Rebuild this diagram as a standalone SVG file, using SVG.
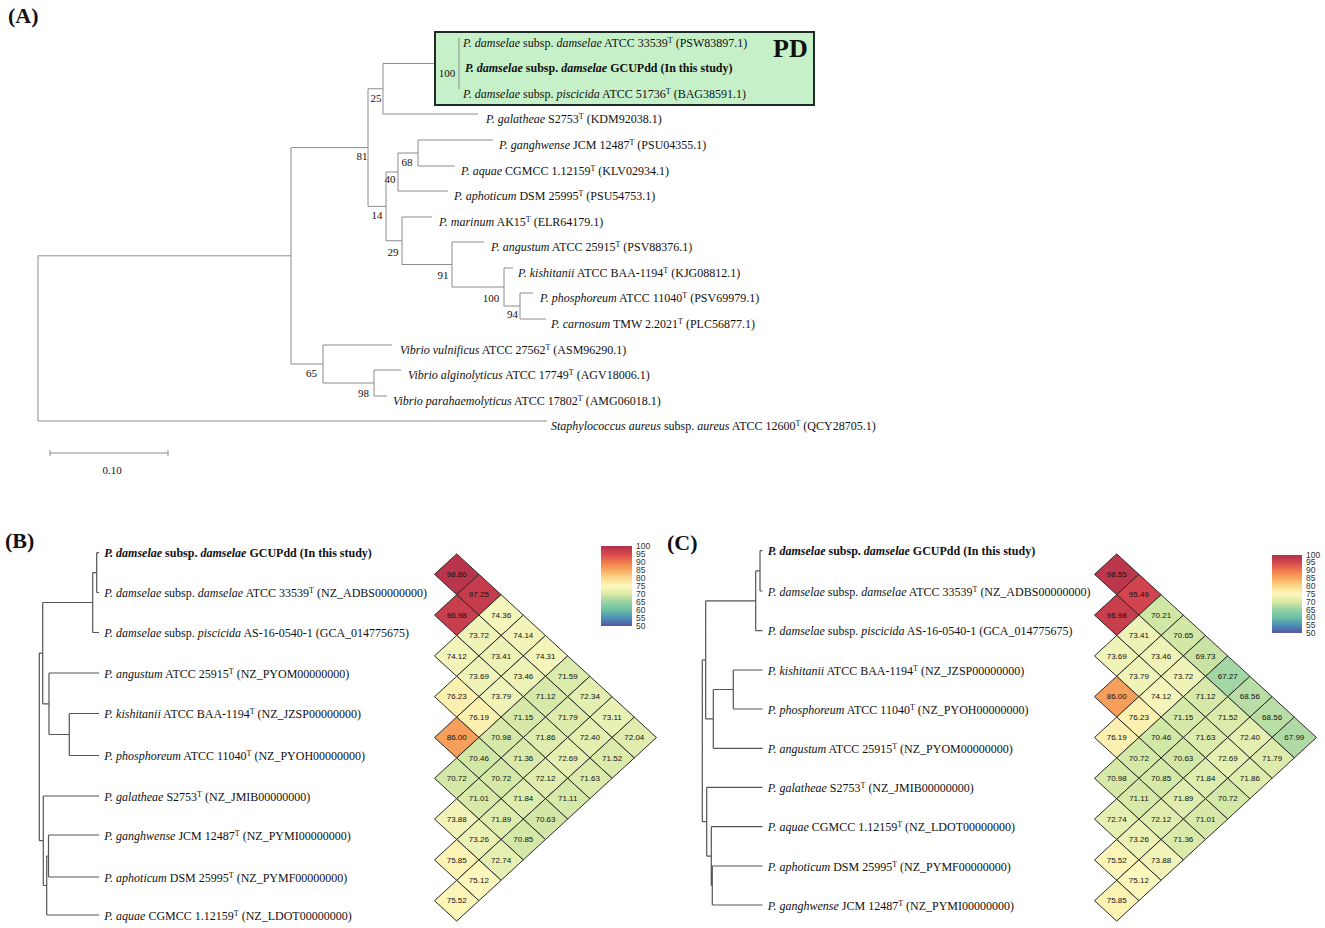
<svg xmlns="http://www.w3.org/2000/svg" width="1325" height="928" viewBox="0 0 1325 928">
<style>
.t{font-family:"Liberation Serif","Times New Roman",serif;font-size:12px;fill:#111}
.i{font-style:italic}
.b{font-weight:bold}
.s{font-size:8px}
.bs{font-family:"Liberation Serif","Times New Roman",serif;font-size:11px;fill:#111;text-anchor:middle}
.ta{fill:none;stroke:#8c8c8c;stroke-width:1}
.tb{fill:none;stroke:#555;stroke-width:1.2}
.cell{stroke:#2a2a2a;stroke-width:1}
.v{font-family:"Liberation Sans",Arial,sans-serif;font-size:8px;fill:#111;text-anchor:middle}
.cb{font-family:"Liberation Sans",Arial,sans-serif;font-size:8.5px;fill:#333}
.pl{font-family:"Liberation Serif","Times New Roman",serif;font-size:22px;font-weight:bold;fill:#111}
</style>
<defs>
<path id="dm" class="cell" d="M-22.2 0L0 -20.4L22.2 0L0 20.4Z"/>
<linearGradient id="spec" x1="0" y1="0" x2="0" y2="1">
<stop offset="0" stop-color="#b2304a"/><stop offset="0.1" stop-color="#d5474f"/><stop offset="0.2" stop-color="#f07a4a"/><stop offset="0.3" stop-color="#f8a860"/><stop offset="0.4" stop-color="#fbd98a"/><stop offset="0.5" stop-color="#fbf8bd"/><stop offset="0.6" stop-color="#dbeaa3"/><stop offset="0.7" stop-color="#96d2a5"/><stop offset="0.8" stop-color="#6cc0a4"/><stop offset="0.9" stop-color="#4a8fb5"/><stop offset="1" stop-color="#5b53a2"/>
</linearGradient>
</defs>
<rect width="1325" height="928" fill="#fff"/>

<text class="pl" x="8" y="23">(A)</text>
<text class="pl" x="5" y="548">(B)</text>
<text class="pl" x="667" y="550">(C)</text>

<!-- Panel A connectors -->
<g id="connectors-A" class="ta">
<path d="M38 255.8V421H547M38 255.8H291M291 147.6V364M291 147.6H368M368 88.75V206.4M368 88.75H383M383 63.5V114M383 63.5H459M383 114H478M368 206.4H386M386 172V240.75M386 172H398M398 153V191M398 153H418M418 140V166M418 140H493M418 166H455M398 191H448M386 240.75H402M402 217V264.5M402 217H432M402 264.5H452M452 242V287M452 242H484M452 287H504M504 268V306M504 268H513M504 306H520M520 293V319M520 293H533M520 319H546M291 364H323M323 345V383M323 345H392M323 383H374M374 370V396M374 370H401M374 396H387"/>
</g>

<g id="pd-box">
<rect x="435" y="32" width="379" height="73" fill="#c6f0c8" stroke="#1e2a28" stroke-width="2"/>
<path class="ta" d="M459 38V89"/>
<text class="t b" x="773" y="57" style="font-size:26px">PD</text>
<text class="bs" x="447" y="76.5">100</text>
</g>

<g id="a-labels">
<g id="a-dd33539"><text class="t" x="463" y="47"><tspan class="i">P. damselae</tspan> subsp. <tspan class="i">damselae</tspan> ATCC 33539<tspan class="s" dy="-4">T</tspan><tspan dy="4"> (PSW83897.1)</tspan></text></g>
<g id="a-gcupdd"><text class="t b" x="465" y="72"><tspan class="i">P. damselae</tspan> subsp. <tspan class="i">damselae</tspan> GCUPdd (In this study)</text></g>
<g id="a-piscicida"><text class="t" x="463" y="98"><tspan class="i">P. damselae</tspan> subsp. <tspan class="i">piscicida</tspan> ATCC 51736<tspan class="s" dy="-4">T</tspan><tspan dy="4"> (BAG38591.1)</tspan></text></g>
<g id="a-galatheae"><text class="t" x="486" y="123"><tspan class="i">P. galatheae</tspan> S2753<tspan class="s" dy="-4">T</tspan><tspan dy="4"> (KDM92038.1)</tspan></text></g>
<g id="a-ganghwense"><text class="t" x="499" y="149"><tspan class="i">P. ganghwense</tspan> JCM 12487<tspan class="s" dy="-4">T</tspan><tspan dy="4"> (PSU04355.1)</tspan></text></g>
<g id="a-aquae"><text class="t" x="461" y="175"><tspan class="i">P. aquae</tspan> CGMCC 1.12159<tspan class="s" dy="-4">T</tspan><tspan dy="4"> (KLV02934.1)</tspan></text></g>
<g id="a-aphoticum"><text class="t" x="454" y="200"><tspan class="i">P. aphoticum</tspan> DSM 25995<tspan class="s" dy="-4">T</tspan><tspan dy="4"> (PSU54753.1)</tspan></text></g>
<g id="a-marinum"><text class="t" x="439" y="226"><tspan class="i">P. marinum</tspan> AK15<tspan class="s" dy="-4">T</tspan><tspan dy="4"> (ELR64179.1)</tspan></text></g>
<g id="a-angustum"><text class="t" x="491" y="251"><tspan class="i">P. angustum</tspan> ATCC 25915<tspan class="s" dy="-4">T</tspan><tspan dy="4"> (PSV88376.1)</tspan></text></g>
<g id="a-kishitanii"><text class="t" x="518" y="277"><tspan class="i">P. kishitanii</tspan> ATCC BAA-1194<tspan class="s" dy="-4">T</tspan><tspan dy="4"> (KJG08812.1)</tspan></text></g>
<g id="a-phosphoreum"><text class="t" x="540" y="302"><tspan class="i">P. phosphoreum</tspan> ATCC 11040<tspan class="s" dy="-4">T</tspan><tspan dy="4"> (PSV69979.1)</tspan></text></g>
<g id="a-carnosum"><text class="t" x="551" y="328"><tspan class="i">P. carnosum</tspan> TMW 2.2021<tspan class="s" dy="-4">T</tspan><tspan dy="4"> (PLC56877.1)</tspan></text></g>
<g id="a-vulnificus"><text class="t" x="400" y="354"><tspan class="i">Vibrio vulnificus</tspan> ATCC 27562<tspan class="s" dy="-4">T</tspan><tspan dy="4"> (ASM96290.1)</tspan></text></g>
<g id="a-alginolyticus"><text class="t" x="408" y="379"><tspan class="i">Vibrio alginolyticus</tspan> ATCC 17749<tspan class="s" dy="-4">T</tspan><tspan dy="4"> (AGV18006.1)</tspan></text></g>
<g id="a-parahaemolyticus"><text class="t" x="393" y="405"><tspan class="i">Vibrio parahaemolyticus</tspan> ATCC 17802<tspan class="s" dy="-4">T</tspan><tspan dy="4"> (AMG06018.1)</tspan></text></g>
<g id="a-staph"><text class="t" x="551" y="430"><tspan class="i">Staphylococcus aureus</tspan> subsp. <tspan class="i">aureus</tspan> ATCC 12600<tspan class="s" dy="-4">T</tspan><tspan dy="4"> (QCY28705.1)</tspan></text></g>
</g>

<g id="a-bootstrap">
<text class="bs" x="376" y="101.5">25</text>
<text class="bs" x="362" y="160">81</text>
<text class="bs" x="407" y="165.5">68</text>
<text class="bs" x="390" y="183">40</text>
<text class="bs" x="377" y="219">14</text>
<text class="bs" x="393" y="255.5">29</text>
<text class="bs" x="443" y="279">91</text>
<text class="bs" x="491" y="301.5">100</text>
<text class="bs" x="512.5" y="318">94</text>
<text class="bs" x="311.5" y="377">65</text>
<text class="bs" x="363.5" y="397">98</text>
</g>

<g id="scale-bar">
<path class="ta" d="M50 453H168M50 450V456M168 450V456"/>
<text class="bs" x="112" y="474">0.10</text>
</g>

<!-- Panel B tree -->
<g id="connectors-B" class="tb">
<path d="M96.7 552.7V592.5M96.7 552.7H99M96.7 592.5H99M92.7 572.6H96.7M92.7 572.6V632.5M92.7 632.5H99M42.7 602.5H92.7M42.7 602.5V703.8M42.7 703.8H49M49 673V734.5M49 673H99M49 734.5H69.3M69.3 713.5V755.5M69.3 713.5H99M69.3 755.5H99M39.3 653.1H42.7M39.3 653.1V840.7M39.3 840.7H43.3M43.3 796V885.5M43.3 796H99M43.3 885.5H46.7M46.7 856V915M46.7 915H99M46.7 856H48.5M48.5 835V877M48.5 835H99M48.5 877H99"/>
</g>
<g id="b-labels">
<g id="b-gcupdd"><text class="t b" x="104.3" y="557.2"><tspan class="i">P. damselae</tspan> subsp. <tspan class="i">damselae</tspan> GCUPdd (In this study)</text></g>
<g id="b-dd33539"><text class="t" x="104.3" y="597"><tspan class="i">P. damselae</tspan> subsp. <tspan class="i">damselae</tspan> ATCC 33539<tspan class="s" dy="-4">T</tspan><tspan dy="4"> (NZ_ADBS00000000)</tspan></text></g>
<g id="b-piscicida"><text class="t" x="104.3" y="637"><tspan class="i">P. damselae</tspan> subsp. <tspan class="i">piscicida</tspan> AS-16-0540-1 (GCA_014775675)</text></g>
<g id="b-angustum"><text class="t" x="104.3" y="677.5"><tspan class="i">P. angustum</tspan> ATCC 25915<tspan class="s" dy="-4">T</tspan><tspan dy="4"> (NZ_PYOM00000000)</tspan></text></g>
<g id="b-kishitanii"><text class="t" x="104.3" y="718"><tspan class="i">P. kishitanii</tspan> ATCC BAA-1194<tspan class="s" dy="-4">T</tspan><tspan dy="4"> (NZ_JZSP00000000)</tspan></text></g>
<g id="b-phosphoreum"><text class="t" x="104.3" y="760"><tspan class="i">P. phosphoreum</tspan> ATCC 11040<tspan class="s" dy="-4">T</tspan><tspan dy="4"> (NZ_PYOH00000000)</tspan></text></g>
<g id="b-galatheae"><text class="t" x="104.3" y="800.5"><tspan class="i">P. galatheae</tspan> S2753<tspan class="s" dy="-4">T</tspan><tspan dy="4"> (NZ_JMIB00000000)</tspan></text></g>
<g id="b-ganghwense"><text class="t" x="104.3" y="839.5"><tspan class="i">P. ganghwense</tspan> JCM 12487<tspan class="s" dy="-4">T</tspan><tspan dy="4"> (NZ_PYMI00000000)</tspan></text></g>
<g id="b-aphoticum"><text class="t" x="104.3" y="881.5"><tspan class="i">P. aphoticum</tspan> DSM 25995<tspan class="s" dy="-4">T</tspan><tspan dy="4"> (NZ_PYMF00000000)</tspan></text></g>
<g id="b-aquae"><text class="t" x="104.3" y="919.5"><tspan class="i">P. aquae</tspan> CGMCC 1.12159<tspan class="s" dy="-4">T</tspan><tspan dy="4"> (NZ_LDOT00000000)</tspan></text></g>
</g>

<g id="heatmap-B" transform="translate(456.7,574.3)">
<use href="#dm" x="0" y="0" fill="#b9354b"/><text class="v" x="0" y="2.8">98.86</text>
<use href="#dm" x="22.2" y="20.4" fill="#c53d4d"/><text class="v" x="22.2" y="23.2">97.25</text>
<use href="#dm" x="0" y="40.8" fill="#c73e4d"/><text class="v" x="0" y="43.6">96.98</text>
<use href="#dm" x="44.4" y="40.8" fill="#f4f5bb"/><text class="v" x="44.4" y="43.6">74.36</text>
<use href="#dm" x="22.2" y="61.2" fill="#eff3b8"/><text class="v" x="22.2" y="64">73.72</text>
<use href="#dm" x="66.6" y="61.2" fill="#f3f4ba"/><text class="v" x="66.6" y="64">74.14</text>
<use href="#dm" x="0" y="81.6" fill="#f3f4ba"/><text class="v" x="0" y="84.4">74.12</text>
<use href="#dm" x="44.4" y="81.6" fill="#ecf1b5"/><text class="v" x="44.4" y="84.4">73.41</text>
<use href="#dm" x="88.8" y="81.6" fill="#f4f5ba"/><text class="v" x="88.8" y="84.4">74.31</text>
<use href="#dm" x="22.2" y="102" fill="#eff3b8"/><text class="v" x="22.2" y="104.8">73.69</text>
<use href="#dm" x="66.6" y="102" fill="#edf2b6"/><text class="v" x="66.6" y="104.8">73.46</text>
<use href="#dm" x="111" y="102" fill="#dbebac"/><text class="v" x="111" y="104.8">71.59</text>
<use href="#dm" x="0" y="122.4" fill="#fbf0b0"/><text class="v" x="0" y="125.2">76.23</text>
<use href="#dm" x="44.4" y="122.4" fill="#f0f3b8"/><text class="v" x="44.4" y="125.2">73.79</text>
<use href="#dm" x="88.8" y="122.4" fill="#d7e9a9"/><text class="v" x="88.8" y="125.2">71.12</text>
<use href="#dm" x="133.2" y="122.4" fill="#e3eeb0"/><text class="v" x="133.2" y="125.2">72.34</text>
<use href="#dm" x="22.2" y="142.8" fill="#fbf0b0"/><text class="v" x="22.2" y="145.6">76.19</text>
<use href="#dm" x="66.6" y="142.8" fill="#d7e9a9"/><text class="v" x="66.6" y="145.6">71.15</text>
<use href="#dm" x="111" y="142.8" fill="#ddecad"/><text class="v" x="111" y="145.6">71.79</text>
<use href="#dm" x="155.4" y="142.8" fill="#e9f0b4"/><text class="v" x="155.4" y="145.6">73.11</text>
<use href="#dm" x="0" y="163.2" fill="#f69f5c"/><text class="v" x="0" y="166">86.00</text>
<use href="#dm" x="44.4" y="163.2" fill="#d6e9a8"/><text class="v" x="44.4" y="166">70.98</text>
<use href="#dm" x="88.8" y="163.2" fill="#deecad"/><text class="v" x="88.8" y="166">71.86</text>
<use href="#dm" x="133.2" y="163.2" fill="#e3eeb0"/><text class="v" x="133.2" y="166">72.40</text>
<use href="#dm" x="177.6" y="163.2" fill="#e0edae"/><text class="v" x="177.6" y="166">72.04</text>
<use href="#dm" x="22.2" y="183.6" fill="#d1e7a5"/><text class="v" x="22.2" y="186.4">70.46</text>
<use href="#dm" x="66.6" y="183.6" fill="#d9eaaa"/><text class="v" x="66.6" y="186.4">71.36</text>
<use href="#dm" x="111" y="183.6" fill="#e6efb2"/><text class="v" x="111" y="186.4">72.69</text>
<use href="#dm" x="155.4" y="183.6" fill="#dbebab"/><text class="v" x="155.4" y="186.4">71.52</text>
<use href="#dm" x="0" y="204" fill="#d4e8a7"/><text class="v" x="0" y="206.8">70.72</text>
<use href="#dm" x="44.4" y="204" fill="#d4e8a7"/><text class="v" x="44.4" y="206.8">70.72</text>
<use href="#dm" x="88.8" y="204" fill="#e0edae"/><text class="v" x="88.8" y="206.8">72.12</text>
<use href="#dm" x="133.2" y="204" fill="#dbebac"/><text class="v" x="133.2" y="206.8">71.63</text>
<use href="#dm" x="22.2" y="224.4" fill="#d6e9a8"/><text class="v" x="22.2" y="227.2">71.01</text>
<use href="#dm" x="66.6" y="224.4" fill="#deecad"/><text class="v" x="66.6" y="227.2">71.84</text>
<use href="#dm" x="111" y="224.4" fill="#d7e9a9"/><text class="v" x="111" y="227.2">71.11</text>
<use href="#dm" x="0" y="244.8" fill="#f1f3b9"/><text class="v" x="0" y="247.6">73.88</text>
<use href="#dm" x="44.4" y="244.8" fill="#deecad"/><text class="v" x="44.4" y="247.6">71.89</text>
<use href="#dm" x="88.8" y="244.8" fill="#d3e7a6"/><text class="v" x="88.8" y="247.6">70.63</text>
<use href="#dm" x="22.2" y="265.2" fill="#ebf1b5"/><text class="v" x="22.2" y="268">73.26</text>
<use href="#dm" x="66.6" y="265.2" fill="#d4e8a7"/><text class="v" x="66.6" y="268">70.85</text>
<use href="#dm" x="0" y="285.6" fill="#fbf3b4"/><text class="v" x="0" y="288.4">75.85</text>
<use href="#dm" x="44.4" y="285.6" fill="#e6efb2"/><text class="v" x="44.4" y="288.4">72.74</text>
<use href="#dm" x="22.2" y="306" fill="#fbf7bc"/><text class="v" x="22.2" y="308.8">75.12</text>
<use href="#dm" x="0" y="326.4" fill="#fbf5b8"/><text class="v" x="0" y="329.2">75.52</text>
</g>

<g id="colorbar-B">
<rect x="601" y="546" width="31" height="80" fill="url(#spec)"/>
<text class="cb" x="636" y="549">100</text><text class="cb" x="636" y="557">95</text><text class="cb" x="636" y="565">90</text><text class="cb" x="636" y="573">85</text><text class="cb" x="636" y="581">80</text><text class="cb" x="636" y="589">75</text><text class="cb" x="636" y="597">70</text><text class="cb" x="636" y="605">65</text><text class="cb" x="636" y="613">60</text><text class="cb" x="636" y="621">55</text><text class="cb" x="636" y="629">50</text>
</g>

<!-- Panel C tree -->
<g id="connectors-C" class="tb">
<path d="M760 550.7V591M760 550.7H762.5M760 591H762.5M755.7 570.9H760M755.7 570.9V630.7M755.7 630.7H762.5M705.7 600.8H755.7M705.7 600.8V718.9M705.7 718.9H713.3M713.3 689.5V748.3M713.3 748.3H762.5M713.3 689.5H733.3M733.3 670V709M733.3 670H762.5M733.3 709H762.5M702.3 659.9H705.7M702.3 659.9V821.7M702.3 821.7H706.7M706.7 787.3V856.1M706.7 787.3H762.5M706.7 856.1H711.3M711.3 826.7V885.5M711.3 826.7H762.5M711.3 885.5H712.3M712.3 866V905M712.3 866H762.5M712.3 905H762.5"/>
</g>
<g id="c-labels">
<g id="c-gcupdd"><text class="t b" x="767.7" y="555.2"><tspan class="i">P. damselae</tspan> subsp. <tspan class="i">damselae</tspan> GCUPdd (In this study)</text></g>
<g id="c-dd33539"><text class="t" x="767.7" y="595.5"><tspan class="i">P. damselae</tspan> subsp. <tspan class="i">damselae</tspan> ATCC 33539<tspan class="s" dy="-4">T</tspan><tspan dy="4"> (NZ_ADBS00000000)</tspan></text></g>
<g id="c-piscicida"><text class="t" x="767.7" y="635.2"><tspan class="i">P. damselae</tspan> subsp. <tspan class="i">piscicida</tspan> AS-16-0540-1 (GCA_014775675)</text></g>
<g id="c-kishitanii"><text class="t" x="767.7" y="674.5"><tspan class="i">P. kishitanii</tspan> ATCC BAA-1194<tspan class="s" dy="-4">T</tspan><tspan dy="4"> (NZ_JZSP00000000)</tspan></text></g>
<g id="c-phosphoreum"><text class="t" x="767.7" y="713.5"><tspan class="i">P. phosphoreum</tspan> ATCC 11040<tspan class="s" dy="-4">T</tspan><tspan dy="4"> (NZ_PYOH00000000)</tspan></text></g>
<g id="c-angustum"><text class="t" x="767.7" y="752.8"><tspan class="i">P. angustum</tspan> ATCC 25915<tspan class="s" dy="-4">T</tspan><tspan dy="4"> (NZ_PYOM00000000)</tspan></text></g>
<g id="c-galatheae"><text class="t" x="767.7" y="791.8"><tspan class="i">P. galatheae</tspan> S2753<tspan class="s" dy="-4">T</tspan><tspan dy="4"> (NZ_JMIB00000000)</tspan></text></g>
<g id="c-aquae"><text class="t" x="767.7" y="831.2"><tspan class="i">P. aquae</tspan> CGMCC 1.12159<tspan class="s" dy="-4">T</tspan><tspan dy="4"> (NZ_LDOT00000000)</tspan></text></g>
<g id="c-aphoticum"><text class="t" x="767.7" y="870.5"><tspan class="i">P. aphoticum</tspan> DSM 25995<tspan class="s" dy="-4">T</tspan><tspan dy="4"> (NZ_PYMF00000000)</tspan></text></g>
<g id="c-ganghwense"><text class="t" x="767.7" y="909.5"><tspan class="i">P. ganghwense</tspan> JCM 12487<tspan class="s" dy="-4">T</tspan><tspan dy="4"> (NZ_PYMI00000000)</tspan></text></g>
</g>

<g id="heatmap-C" transform="translate(1116.7,574.3)">
<use href="#dm" x="0" y="0" fill="#bc374b"/><text class="v" x="0" y="2.8">98.55</text>
<use href="#dm" x="22.2" y="20.4" fill="#d2454f"/><text class="v" x="22.2" y="23.2">95.49</text>
<use href="#dm" x="0" y="40.8" fill="#c73e4d"/><text class="v" x="0" y="43.6">96.98</text>
<use href="#dm" x="44.4" y="40.8" fill="#cfe6a4"/><text class="v" x="44.4" y="43.6">70.21</text>
<use href="#dm" x="22.2" y="61.2" fill="#ecf1b5"/><text class="v" x="22.2" y="64">73.41</text>
<use href="#dm" x="66.6" y="61.2" fill="#d3e7a6"/><text class="v" x="66.6" y="64">70.65</text>
<use href="#dm" x="0" y="81.6" fill="#eff3b8"/><text class="v" x="0" y="84.4">73.69</text>
<use href="#dm" x="44.4" y="81.6" fill="#edf2b6"/><text class="v" x="44.4" y="84.4">73.46</text>
<use href="#dm" x="88.8" y="81.6" fill="#c8e3a3"/><text class="v" x="88.8" y="84.4">69.73</text>
<use href="#dm" x="22.2" y="102" fill="#f0f3b8"/><text class="v" x="22.2" y="104.8">73.79</text>
<use href="#dm" x="66.6" y="102" fill="#eff3b8"/><text class="v" x="66.6" y="104.8">73.72</text>
<use href="#dm" x="111" y="102" fill="#a3d6a5"/><text class="v" x="111" y="104.8">67.27</text>
<use href="#dm" x="0" y="122.4" fill="#f69f5c"/><text class="v" x="0" y="125.2">86.00</text>
<use href="#dm" x="44.4" y="122.4" fill="#f3f4ba"/><text class="v" x="44.4" y="125.2">74.12</text>
<use href="#dm" x="88.8" y="122.4" fill="#d7e9a9"/><text class="v" x="88.8" y="125.2">71.12</text>
<use href="#dm" x="133.2" y="122.4" fill="#b9dea5"/><text class="v" x="133.2" y="125.2">68.56</text>
<use href="#dm" x="22.2" y="142.8" fill="#fbf0b0"/><text class="v" x="22.2" y="145.6">76.23</text>
<use href="#dm" x="66.6" y="142.8" fill="#d7e9a9"/><text class="v" x="66.6" y="145.6">71.15</text>
<use href="#dm" x="111" y="142.8" fill="#dbebab"/><text class="v" x="111" y="145.6">71.52</text>
<use href="#dm" x="155.4" y="142.8" fill="#b9dea5"/><text class="v" x="155.4" y="145.6">68.56</text>
<use href="#dm" x="0" y="163.2" fill="#fbf0b0"/><text class="v" x="0" y="166">76.19</text>
<use href="#dm" x="44.4" y="163.2" fill="#d1e7a5"/><text class="v" x="44.4" y="166">70.46</text>
<use href="#dm" x="88.8" y="163.2" fill="#dbebac"/><text class="v" x="88.8" y="166">71.63</text>
<use href="#dm" x="133.2" y="163.2" fill="#e3eeb0"/><text class="v" x="133.2" y="166">72.40</text>
<use href="#dm" x="177.6" y="163.2" fill="#b0daa5"/><text class="v" x="177.6" y="166">67.99</text>
<use href="#dm" x="22.2" y="183.6" fill="#d4e8a7"/><text class="v" x="22.2" y="186.4">70.72</text>
<use href="#dm" x="66.6" y="183.6" fill="#d3e7a6"/><text class="v" x="66.6" y="186.4">70.63</text>
<use href="#dm" x="111" y="183.6" fill="#e6efb2"/><text class="v" x="111" y="186.4">72.69</text>
<use href="#dm" x="155.4" y="183.6" fill="#ddecad"/><text class="v" x="155.4" y="186.4">71.79</text>
<use href="#dm" x="0" y="204" fill="#d6e9a8"/><text class="v" x="0" y="206.8">70.98</text>
<use href="#dm" x="44.4" y="204" fill="#d4e8a7"/><text class="v" x="44.4" y="206.8">70.85</text>
<use href="#dm" x="88.8" y="204" fill="#deecad"/><text class="v" x="88.8" y="206.8">71.84</text>
<use href="#dm" x="133.2" y="204" fill="#deecad"/><text class="v" x="133.2" y="206.8">71.86</text>
<use href="#dm" x="22.2" y="224.4" fill="#d7e9a9"/><text class="v" x="22.2" y="227.2">71.11</text>
<use href="#dm" x="66.6" y="224.4" fill="#deecad"/><text class="v" x="66.6" y="227.2">71.89</text>
<use href="#dm" x="111" y="224.4" fill="#d4e8a7"/><text class="v" x="111" y="227.2">70.72</text>
<use href="#dm" x="0" y="244.8" fill="#e6efb2"/><text class="v" x="0" y="247.6">72.74</text>
<use href="#dm" x="44.4" y="244.8" fill="#e0edae"/><text class="v" x="44.4" y="247.6">72.12</text>
<use href="#dm" x="88.8" y="244.8" fill="#d6e9a8"/><text class="v" x="88.8" y="247.6">71.01</text>
<use href="#dm" x="22.2" y="265.2" fill="#ebf1b5"/><text class="v" x="22.2" y="268">73.26</text>
<use href="#dm" x="66.6" y="265.2" fill="#d9eaaa"/><text class="v" x="66.6" y="268">71.36</text>
<use href="#dm" x="0" y="285.6" fill="#fbf5b8"/><text class="v" x="0" y="288.4">75.52</text>
<use href="#dm" x="44.4" y="285.6" fill="#f1f3b9"/><text class="v" x="44.4" y="288.4">73.88</text>
<use href="#dm" x="22.2" y="306" fill="#fbf7bc"/><text class="v" x="22.2" y="308.8">75.12</text>
<use href="#dm" x="0" y="326.4" fill="#fbf3b4"/><text class="v" x="0" y="329.2">75.85</text>
</g>

<g id="colorbar-C">
<rect x="1272" y="555" width="30" height="78" fill="url(#spec)"/>
<text class="cb" x="1306" y="557.5">100</text><text class="cb" x="1306" y="565.4">95</text><text class="cb" x="1306" y="573.2">90</text><text class="cb" x="1306" y="581.1">85</text><text class="cb" x="1306" y="588.9">80</text><text class="cb" x="1306" y="596.8">75</text><text class="cb" x="1306" y="604.6">70</text><text class="cb" x="1306" y="612.5">65</text><text class="cb" x="1306" y="620.3">60</text><text class="cb" x="1306" y="628.2">55</text><text class="cb" x="1306" y="636">50</text>
</g>
</svg>
